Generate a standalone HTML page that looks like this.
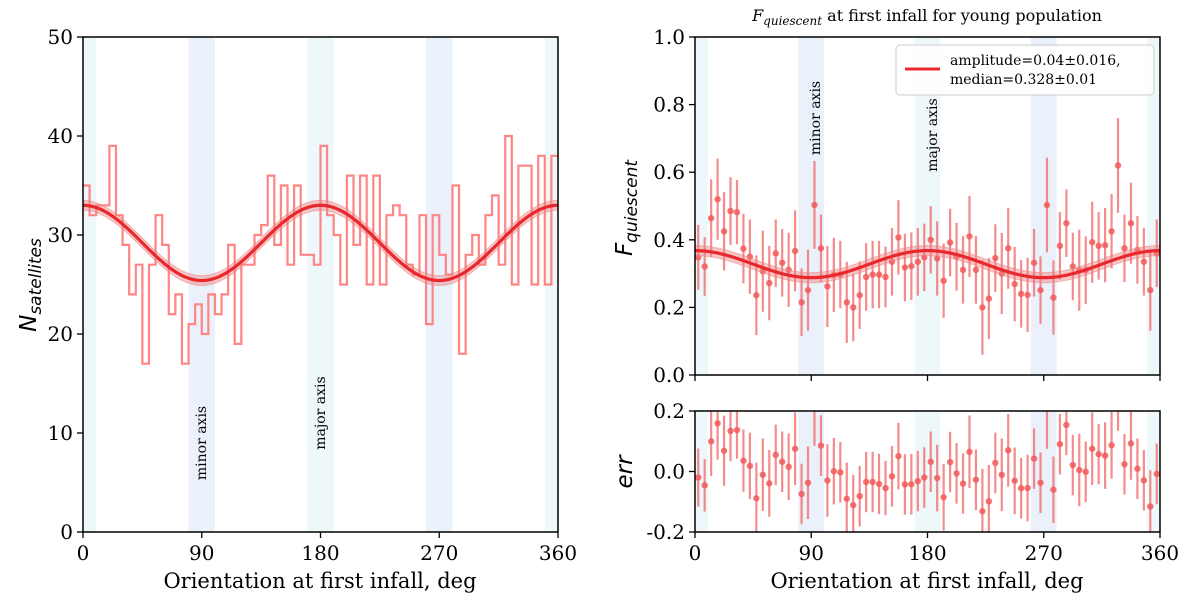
<!DOCTYPE html>
<html><head><meta charset="utf-8">
<style>
body{margin:0;background:#fff;}
svg{display:block;font-family:"DejaVu Serif","Liberation Serif",serif;}
</style></head>
<body>
<svg id="chart" width="1200" height="600" viewBox="0 0 1200 600"></svg>
<script>
// ---- data ----
const histCounts = [35,32,33,33,39,32,29,24,27,17,27,32,29,22,24,17,21,23,20,24,22,24,29,19,27,27,30,31,36,29,35,27,35,28,28,27,
  39,32,30,25,36,29,36,25,36,25,32,33,32,27,26,32,21,32,28,26,35,18,28,30,27,32,34,27,40,25,37,37,25,38,25,38];
const fitMedianN = 29.2, fitAmpN = 3.8, fitBandN = 0.5;
const fq = [0.348,0.321,0.464,0.52,0.425,0.485,0.482,0.374,0.35,0.236,0.307,0.272,0.36,0.332,0.311,0.367,0.215,0.251,0.503,0.375,0.262,0.296,0.297,0.215,0.2,0.236,0.29,0.297,0.297,0.29,0.335,0.407,0.318,0.322,0.335,0.348,
  0.4,0.345,0.279,0.392,0.35,0.311,0.41,0.311,0.2,0.226,0.346,0.3,0.375,0.269,0.24,0.237,0.332,0.251,0.503,0.229,0.382,0.449,0.321,0.31,0.31,0.393,0.382,0.384,0.425,0.62,0.375,0.449,0.37,0.335,0.251,0.36];
const fqErr = [0.096,0.087,0.115,0.12,0.116,0.1,0.095,0.103,0.11,0.118,0.12,0.11,0.1,0.1,0.11,0.12,0.1,0.12,0.13,0.1,0.12,0.11,0.1,0.12,0.1,0.1,0.1,0.1,0.1,0.09,0.1,0.11,0.1,0.1,0.1,0.1,
  0.1,0.11,0.11,0.1,0.1,0.1,0.12,0.1,0.14,0.12,0.1,0.12,0.12,0.11,0.1,0.11,0.1,0.1,0.14,0.11,0.1,0.1,0.1,0.12,0.1,0.12,0.1,0.11,0.11,0.14,0.1,0.12,0.1,0.1,0.12,0.1];
const fitMedianF = 0.328, fitAmpF = 0.04, fitBandF = 0.015;
const xTicks = [0,90,180,270,360];
const yTicksN = [0,10,20,30,40,50];
const yTicksF = [0.0,0.2,0.4,0.6,0.8,1.0];
const yTicksE = [-0.2,0.0,0.2];
const bandsCyan = [[0,10],[170,190],[350,360]];
const bandsBlue = [[80,100],[260,280]];

const NS='http://www.w3.org/2000/svg';
const svg=document.getElementById('chart');
function el(tag,attrs,parent,text){const e=document.createElementNS(NS,tag);for(const k in attrs)e.setAttribute(k,attrs[k]);if(text!==undefined)e.textContent=text;(parent||svg).appendChild(e);return e;}

function panel(x0,x1,y0,y1,ymin,ymax){
  return {x0,x1,y0,y1,sx:d=>x0+(d/360)*(x1-x0),sy:v=>y1-(v-ymin)/(ymax-ymin)*(y1-y0)};
}
const L=panel(83,558,37,532,0,50);
const RT=panel(695,1160,37,375,0,1);
const RB=panel(695,1160,411,532,-0.2,0.2);

function bands(P,name){
  const g=el('g',{});
  
  
  bandsCyan.forEach(b=>{const r=el('rect',{x:P.sx(b[0]),y:P.y0,width:P.sx(b[1])-P.sx(b[0]),height:P.y1-P.y0,fill:'#eef7fa'},g);
    
    });
  bandsBlue.forEach(b=>{const r=el('rect',{x:P.sx(b[0]),y:P.y0,width:P.sx(b[1])-P.sx(b[0]),height:P.y1-P.y0,fill:'#ebf1fb'},g);
    
    });
}
function frame(P,name,yt,fmt,showX){
  const g=el('g',{});
  
  
  el('rect',{x:P.x0,y:P.y0,width:P.x1-P.x0,height:P.y1-P.y0,fill:'none',stroke:'#000','stroke-width':1.5},g);
  xTicks.forEach(t=>{const x=P.sx(t);el('line',{x1:x,x2:x,y1:P.y1,y2:P.y1+6,stroke:'#000','stroke-width':1.3},g);
    if(showX){const tx=el('text',{x:x,y:P.y1+28,'font-size':20,'text-anchor':'middle'},g,String(t));
      
      }});
  yt.forEach(t=>{const y=P.sy(t);el('line',{x1:P.x0-6,x2:P.x0,y1:y,y2:y,stroke:'#000','stroke-width':1.3},g);
    const tx=el('text',{x:P.x0-10,y:y+7,'font-size':20,'text-anchor':'end'},g,fmt(t));
    
    });
}
function fitCurve(P,med,amp,bw,name){
  let top='',bot='',mid='';
  for(let d=0;d<=360;d+=2){const v=med+amp*Math.cos(2*d*Math.PI/180);
    top+=(d?'L':'M')+P.sx(d)+','+P.sy(v+bw);mid+=(d?'L':'M')+P.sx(d)+','+P.sy(v);}
  for(let d=360;d>=0;d-=2){const v=med+amp*Math.cos(2*d*Math.PI/180);bot+='L'+P.sx(d)+','+P.sy(v-bw);}
  const b=el('path',{d:top+bot+'Z',fill:'#f08080','fill-opacity':0.45,stroke:'#f08080','stroke-opacity':0.5});
  
  
  const l=el('path',{d:mid,fill:'none',stroke:'#e8282c','stroke-width':3.2});
  
  
}
function axisLabel(x,y,txt,name){
  const t=el('text',{x:x,y:y,'font-size':14,'text-anchor':'middle',transform:'rotate(-90 '+x+' '+y+')'},svg,txt);
  
  
}

// ---- left panel ----
bands(L,'left');
let hp='M'+L.sx(0)+','+L.sy(histCounts[0]);
histCounts.forEach((c,i)=>{hp+='L'+L.sx(i*5)+','+L.sy(c)+'L'+L.sx(i*5+5)+','+L.sy(c);});
const hist=el('path',{d:hp,fill:'none',stroke:'#ff8585','stroke-width':2.2});


fitCurve(L,fitMedianN,fitAmpN,fitBandN,'left');
axisLabel(206,443,'minor axis','minor-axis-label-left');
axisLabel(325,413,'major axis','major-axis-label-left');
frame(L,'left',yTicksN,t=>String(t),true);

// ---- right ----
bands(RT,'right-top');
bands(RB,'right-bottom');
function points(P,vals,name){
  const g=el('g',{});
  
  
  vals.forEach((v,i)=>{const x=P.sx(i*5+2.5);
    const lo=v-fqErr[i],hi=v+fqErr[i];
    let y1=P.sy(hi),y2=P.sy(lo);y1=Math.max(y1,P.y0);y2=Math.min(y2,P.y1);
    el('line',{x1:x,x2:x,y1:y1,y2:y2,stroke:'#f26565','stroke-opacity':0.75,'stroke-width':2.2},g);
    const py=P.sy(v);
    if(py>=P.y0-3&&py<=P.y1+3){const c=el('circle',{cx:x,cy:py,r:3.2,fill:'#f25a5a','fill-opacity':0.85},g);
      
      }
  });
}
points(RT,fq,'fq-points');
fitCurve(RT,fitMedianF,fitAmpF,fitBandF,'right');
axisLabel(820,118,'minor axis','minor-axis-label-right');
axisLabel(937,135,'major axis','major-axis-label-right');
frame(RT,'right-top',yTicksF,t=>t.toFixed(1),false);

const resid=fq.map((v,i)=>v-(fitMedianF+fitAmpF*Math.cos(2*(i*5+2.5)*Math.PI/180)));
points(RB,resid,'residual-points');
frame(RB,'right-bottom',yTicksE,t=>t.toFixed(1),true);

// legend
const lg=el('g',{});


el('rect',{x:896,y:45,width:258,height:50,rx:4,fill:'#fff','fill-opacity':0.85,stroke:'#ccc'},lg);
el('line',{x1:905,x2:940,y1:69,y2:69,stroke:'#e8282c','stroke-width':3},lg);
el('text',{x:950,y:65,'font-size':14},lg,'amplitude=0.04±0.016,');
el('text',{x:950,y:84,'font-size':14},lg,'median=0.328±0.01');

function txt(attrs,html,name){const t=el('text',attrs);t.innerHTML=html;return t;}
txt({x:927,y:21,'font-size':16,'text-anchor':'middle'},'<tspan font-style="italic">F</tspan><tspan font-style="italic" font-size="12" dy="4">quiescent</tspan><tspan dy="-4"> at first infall for young population</tspan>','chart-title');
txt({x:320,y:588,'font-size':21,'text-anchor':'middle'},'Orientation at first infall, deg','x-axis-title-left');
txt({x:927,y:588,'font-size':21,'text-anchor':'middle'},'Orientation at first infall, deg','x-axis-title-right');
txt({x:0,y:0,'font-size':23,'text-anchor':'middle',transform:'translate(36,285) rotate(-90)','font-family':'DejaVu Sans, sans-serif'},'<tspan font-style="italic">N</tspan><tspan font-style="italic" font-size="17" dy="5">satellites</tspan>','y-axis-title-left');
txt({x:0,y:0,'font-size':23,'text-anchor':'middle',transform:'translate(632,208) rotate(-90)','font-family':'DejaVu Sans, sans-serif'},'<tspan font-style="italic">F</tspan><tspan font-style="italic" font-size="17" dy="5">quiescent</tspan>','y-axis-title-right');
txt({x:0,y:0,'font-size':23,'text-anchor':'middle',transform:'translate(632,472) rotate(-90)','font-family':'DejaVu Sans, sans-serif','font-style':'italic'},'err','y-axis-title-err');
</script>
</body></html>
